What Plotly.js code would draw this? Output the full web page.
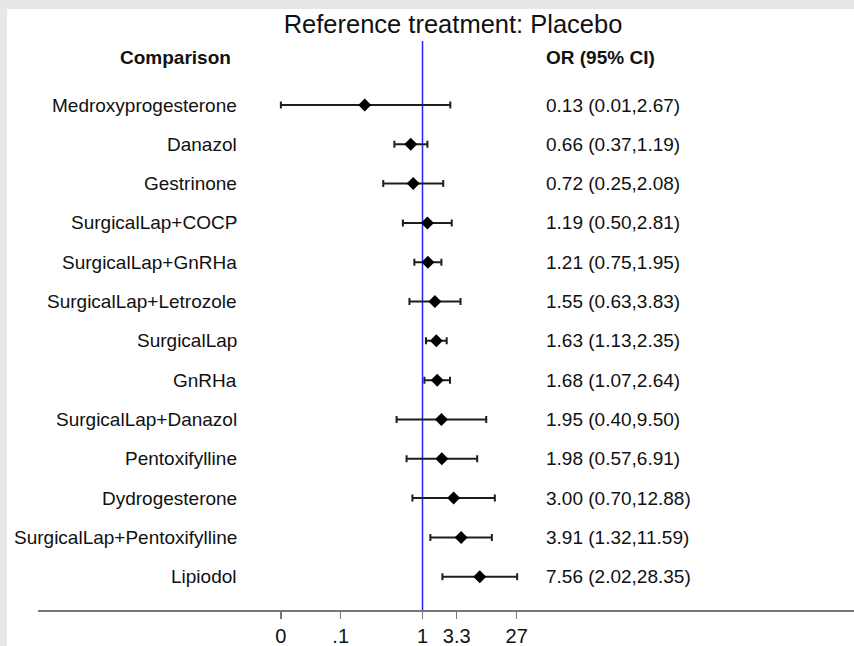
<!DOCTYPE html>
<html>
<head>
<meta charset="utf-8">
<script src="https://cdn.plot.ly/plotly-3.0.1.min.js"></script>
<style>
  html, body { margin: 0; padding: 0; background: #e6e7e9; width: 854px; height: 646px; overflow: hidden; }
  #chart { position: absolute; left: 7px; top: 9px; width: 847px; height: 637px; background: #ffffff; }
</style>
</head>
<body>
<div id="chart"></div>
<script>
// ---- data ----
const comparisons = [
  "Medroxyprogesterone", "Danazol", "Gestrinone", "SurgicalLap+COCP",
  "SurgicalLap+GnRHa", "SurgicalLap+Letrozole", "SurgicalLap", "GnRHa",
  "SurgicalLap+Danazol", "Pentoxifylline", "Dydrogesterone",
  "SurgicalLap+Pentoxifylline", "Lipiodol"
];
const oddsRatio = [0.13, 0.66, 0.72, 1.19, 1.21, 1.55, 1.63, 1.68, 1.95, 1.98, 3.00, 3.91, 7.56];
const ciLower   = [0.0067, 0.37, 0.25, 0.50, 0.75, 0.63, 1.13, 1.07, 0.40, 0.57, 0.70, 1.32, 2.02];
const ciUpper   = [2.67, 1.19, 2.08, 2.81, 1.95, 3.83, 2.35, 2.64, 9.50, 6.91, 12.88, 11.59, 28.35];
const tickValues = [0.0067, 0.0555, 1, 3.35, 27.9];
const tickLabels = ["0", ".1", "1", "3.3", "27"];
const titleText = "Reference treatment: Placebo";
const leftHeader = "Comparison";
const rightHeader = "OR (95% CI)";
const referenceValue = 1;

// ---- build ----
const rowIndex = comparisons.map((_, i) => i);
const orText = oddsRatio.map((v, i) =>
  v.toFixed(2) + " (" + ciLower[i].toFixed(2) + "," + ciUpper[i].toFixed(2) + ")");

const FONT = "Liberation Sans, Arial, Helvetica, sans-serif";
const TXT = "#111111";
const yRange = [12.847, -1.628];

const refLine = {
  type: "scatter",
  mode: "lines",
  x: [referenceValue, referenceValue],
  y: yRange,
  line: { color: "#2323ff", width: 1.5 },
  hoverinfo: "skip",
  showlegend: false,
  cliponaxis: false
};

const trace = {
  type: "scatter",
  mode: "markers",
  x: oddsRatio,
  y: rowIndex,
  marker: { symbol: "diamond", size: 10, color: "#000000", line: { width: 0 } },
  error_x: {
    type: "data",
    symmetric: false,
    array: oddsRatio.map((v, i) => ciUpper[i] - v),
    arrayminus: oddsRatio.map((v, i) => v - ciLower[i]),
    color: "#1e1e1e",
    thickness: 2,
    width: 3.5
  },
  hoverinfo: "skip",
  showlegend: false
};

const annotations = [];
comparisons.forEach((name, i) => {
  annotations.push({
    text: name, xref: "paper", x: 0.2463, xanchor: "right",
    yref: "y", y: i, yanchor: "middle", showarrow: false,
    font: { family: FONT, size: 19, color: TXT }
  });
  annotations.push({
    text: orText[i], xref: "paper", x: 0.62, xanchor: "left",
    yref: "y", y: i, yanchor: "middle", showarrow: false,
    font: { family: FONT, size: 19, color: TXT }
  });
});
annotations.push({
  text: "<b>" + leftHeader + "</b>", xref: "paper", x: 0.169, xanchor: "center",
  yref: "y", y: -1.196, yanchor: "middle", showarrow: false,
  font: { family: FONT, size: 19, color: TXT }
});
annotations.push({
  text: "<b>" + rightHeader + "</b>", xref: "paper", x: 0.62, xanchor: "left",
  yref: "y", y: -1.196, yanchor: "middle", showarrow: false,
  font: { family: FONT, size: 19, color: TXT }
});

const layout = {
  width: 847,
  height: 637,
  margin: { l: 31, r: 0, t: 32, b: 36, pad: 0 },
  paper_bgcolor: "#ffffff",
  plot_bgcolor: "#ffffff",
  title: {
    text: titleText,
    font: { family: FONT, size: 25.5, color: TXT },
    xref: "container", x: 0.5266, xanchor: "center",
    yref: "container", y: 0.9765, yanchor: "middle"
  },
  xaxis: {
    type: "log",
    range: [-5.901, 6.622],
    showgrid: false,
    zeroline: false,
    showline: true,
    linecolor: "#777777",
    linewidth: 2,
    ticks: "outside",
    ticklen: 7,
    tickwidth: 1.5,
    tickcolor: "#777777",
    tickmode: "array",
    tickvals: tickValues,
    ticktext: tickLabels,
    tickfont: { family: FONT, size: 20, color: TXT },
    fixedrange: true
  },
  yaxis: {
    range: yRange,
    showgrid: false,
    zeroline: false,
    showline: false,
    showticklabels: false,
    ticks: "",
    fixedrange: true
  },
  annotations: annotations
};

Plotly.newPlot("chart", [refLine, trace], layout, { displayModeBar: false, staticPlot: true });
</script>
</body>
</html>
